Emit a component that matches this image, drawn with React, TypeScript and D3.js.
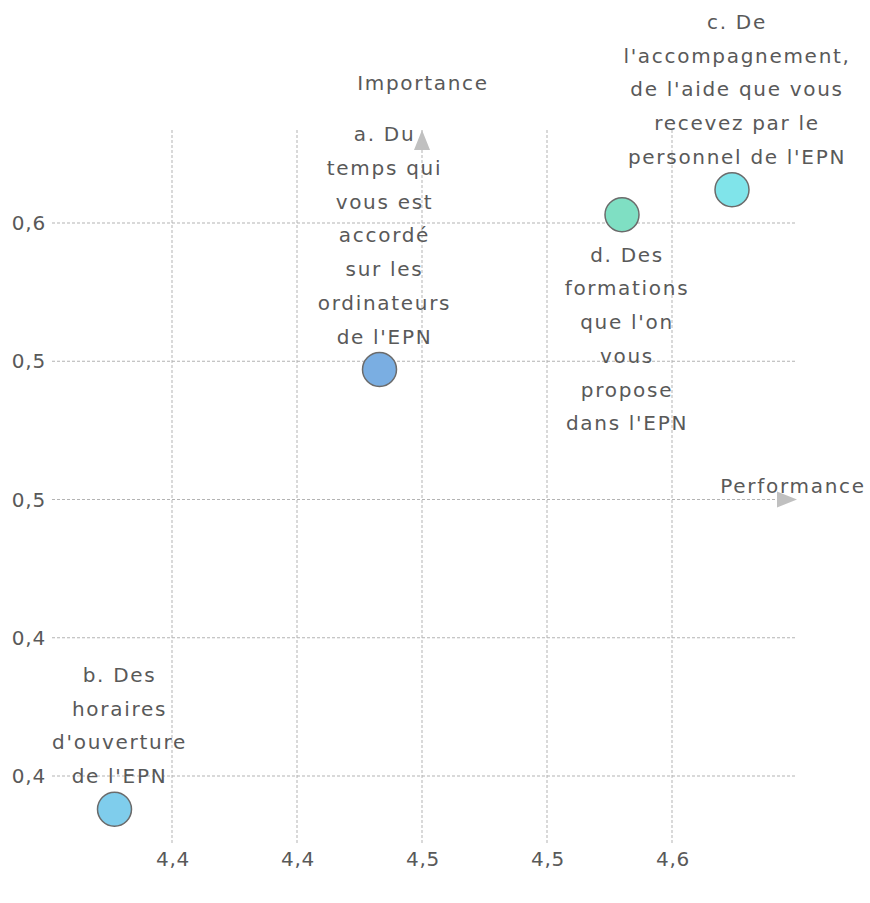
import React, { useEffect } from "react";
import * as d3 from "d3";

// tick values and the labels shown for them (the source truncates to one decimal)
const xTicks = [4.4, 4.45, 4.5, 4.55, 4.6];
const xTickLabels = ["4,4", "4,4", "4,5", "4,5", "4,6"];
const yTicks = [0.6, 0.55, 0.5, 0.45, 0.4];
const yTickLabels = ["0,6", "0,5", "0,5", "0,4", "0,4"];

const items = ["a", "b", "c", "d"];
const performance = [4.483, 4.377, 4.624, 4.58];
const importance = [0.547, 0.388, 0.612, 0.603];
const colors = ["#7aaee2", "#7fcdec", "#80e4ea", "#7fdfc3"];
const labels = [
  ["a. Du", "temps qui", "vous est", "accordé", "sur les", "ordinateurs", "de l'EPN"],
  ["b. Des", "horaires", "d'ouverture", "de l'EPN"],
  ["c. De", "l'accompagnement,", "de l'aide que vous", "recevez par le", "personnel de l'EPN"],
  ["d. Des", "formations", "que l'on", "vous", "propose", "dans l'EPN"],
];
const labelBelow = [false, false, false, true];

const meanX = 4.5;
const meanY = 0.5;

const width = 870;
const height = 903;
const font = "'DejaVu Sans', sans-serif";
const textColor = "#595959";

export default function App() {
  useEffect(() => {
    document.body.style.margin = "0";
  }, []);

  const x = d3.scaleLinear().domain([4.4, 4.6]).range([172, 672]);
  const y = d3.scaleLinear().domain([0.4, 0.6]).range([776, 223]);

  const gridTop = 130;
  const gridBottom = 845;
  const gridLeft = 52;
  const gridRight = 795;
  const lineH = 33.7;

  return (
    <svg width={width} height={height} style={{ display: "block", background: "#fff" }}>
      <g stroke="#b3b3b3" strokeDasharray="3,2" strokeWidth={1}>
        {xTicks.map((t, i) => (
          <line key={"gx" + i} x1={x(t)} x2={x(t)} y1={gridTop} y2={gridBottom} />
        ))}
        {yTicks.map((t, i) => (
          <line key={"gy" + i} x1={gridLeft} x2={gridRight} y1={y(t)} y2={y(t)} />
        ))}
      </g>

      {/* quadrant axis arrows */}
      <path d={`M${x(meanX)},${gridTop} l-8,20 l16,0 Z`} fill="#c0c0c0" />
      <path d={`M${gridRight + 2},${y(meanY)} l-20,-8 l0,16 Z`} fill="#c0c0c0" />

      <g fontFamily={font} fontSize={20} fill={textColor} letterSpacing={1.7}>
        <text x={x(meanX) + 1} y={90} textAnchor="middle">
          Importance
        </text>
        <text x={793} y={493} textAnchor="middle">
          Performance
        </text>
      </g>

      <g fontFamily={font} fontSize={20} fill={textColor} letterSpacing={0.8}>
        {xTicks.map((t, i) => (
          <text key={"tx" + i} x={x(t) + 1} y={866} textAnchor="middle">
            {xTickLabels[i]}
          </text>
        ))}
        {yTicks.map((t, i) => (
          <text key={"ty" + i} x={46} y={y(t) + 7} textAnchor="end">
            {yTickLabels[i]}
          </text>
        ))}
      </g>

      {items.map((id, i) => {
        const cx = x(performance[i]);
        const cy = y(importance[i]);
        const lines = labels[i];
        return (
          <g key={id}>
            <circle cx={cx} cy={cy} r={17} fill={colors[i]} stroke="#6b6b6b" strokeWidth={1.5} />
            <g fontFamily={font} fontSize={20} fill={textColor} textAnchor="middle" letterSpacing={1.7}>
              {lines.map((ln, j) => {
                const ly = labelBelow[i]
                  ? cy + 40 + j * lineH
                  : cy - 33 - (lines.length - 1 - j) * lineH;
                return (
                  <text key={j} x={cx + 5} y={ly + 7}>
                    {ln}
                  </text>
                );
              })}
            </g>
          </g>
        );
      })}
    </svg>
  );
}
